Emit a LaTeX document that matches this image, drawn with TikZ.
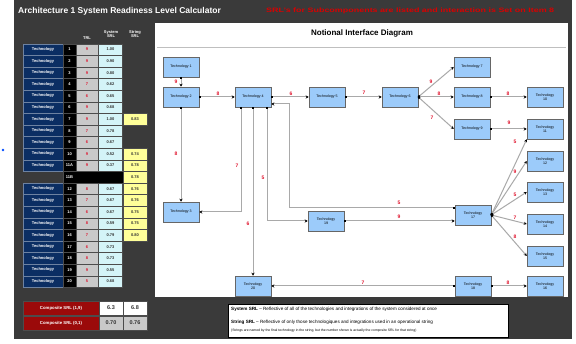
\documentclass[tikz,border=0pt]{standalone}
\usepackage{fontspec}
\setmainfont{Liberation Sans}
\usetikzlibrary{arrows.meta,shadows}
\definecolor{bgdark}{HTML}{3A3A3A}
\definecolor{navy}{HTML}{0B2E63}
\definecolor{techblue}{HTML}{9CCBFA}
\definecolor{trlgray}{HTML}{C9C9C9}
\definecolor{srlcyan}{HTML}{D4F4F8}
\definecolor{stryellow}{HTML}{FFFF99}
\definecolor{darkred}{HTML}{9B0A0A}
\definecolor{lblred}{HTML}{E0102A}
\definecolor{linegray}{HTML}{A9A9A9}
\newcommand\tinyfont[1]{\fontsize{#1}{#1}\selectfont}
\tikzset{
  cellbase/.style={draw=black!70, line width=0.3pt, inner sep=0pt, minimum height=11.6pt, font=\tinyfont{4}\bfseries},
  techlab/.style={cellbase, fill=navy, draw=navy!60!white, text=white, minimum width=40pt},
  technum/.style={cellbase, fill=black, text=white, minimum width=13pt},
  trlcell/.style={cellbase, fill=trlgray, text=lblred, minimum width=22pt},
  srlcell/.style={cellbase, fill=srlcyan, text=black!80, minimum width=24pt},
  strcell/.style={cellbase, fill=stryellow, text=black!80, minimum width=24pt},
  hdr/.style={text=white, font=\tinyfont{4}\bfseries, align=center, inner sep=0pt},
  compl/.style={draw=black!70, line width=0.3pt, fill=darkred, text=white, font=\tinyfont{4.3}\bfseries, minimum width=76pt, minimum height=14pt, inner sep=0pt},
  compv/.style={draw=black!70, line width=0.3pt, text=black!80, font=\tinyfont{5.5}\bfseries, minimum width=24pt, minimum height=14pt, inner sep=0pt},
  tech/.style={draw=black!60, line width=0.5pt, fill=techblue, minimum width=36pt, minimum height=20pt, inner sep=0pt, align=center, font=\tinyfont{3.6},
    drop shadow={shadow xshift=1pt, shadow yshift=-1pt, fill=black!45, opacity=1}},
  conn/.style={draw=linegray, line width=1pt, {Square[length=2pt,width=2pt,color=black]}-{Stealth[length=3pt,width=3pt,color=black]}},
  lab/.style={text=lblred, font=\tinyfont{5}\bfseries, inner sep=0pt}
}
\newcommand\techrow[6]{%
  \node[techlab] (tl#1) at (43,#2) {Technology};
  \node[technum] (tn#1) at (69.5,#2) {#3};
  \node[trlcell] (tr#1) at (87,#2) {#4};
  \node[srlcell] (ts#1) at (110.5,#2) {#5};
  \if\relax\detokenize{#6}\relax\else\node[strcell] (tg#1) at (135,#2) {#6};\fi
}
\begin{document}
\begin{tikzpicture}[x=1pt,y=-1pt]
\useasboundingbox (0,0) rectangle (576,344);
\fill[white] (0,0) rectangle (576,344);
\fill[bgdark] (14,0) rectangle (572,339);
\fill[blue!70!cyan] (3,150) circle (1.3pt);
% titles
\node[anchor=west, text=white, font=\tinyfont{8.5}\bfseries, inner sep=0pt] (title) at (18,11) {Architecture 1 System Readiness Level Calculator};
\node[anchor=west, text=red!85!black, font=\bfseries, inner sep=0pt] (note) at (266,11) {\resizebox{288pt}{4.6pt}{SRL's for Subcomponents are listed and interaction is Set on Item 8}};
% table headers
\node[hdr] (hTRL) at (87,38) {TRL};
\node[hdr] (hSys) at (111,34) {System\\SRL};
\node[hdr] (hStr) at (135,34) {String\\SRL};
% table rows
\techrow{1}{49.5}{1}{9}{1.00}{}
\techrow{2}{61.1}{2}{9}{0.90}{}
\techrow{3}{72.7}{3}{9}{0.80}{}
\techrow{4}{84.3}{4}{7}{0.62}{}
\techrow{5}{95.9}{5}{6}{0.65}{}
\techrow{6}{107.5}{6}{9}{0.68}{}
\techrow{7}{119.1}{7}{9}{1.00}{0.83}
\techrow{8}{130.7}{8}{7}{0.78}{}
\techrow{9}{142.3}{9}{6}{0.67}{}
\techrow{10}{153.9}{10}{9}{0.52}{0.74}
\techrow{11a}{165.5}{11A}{9}{0.37}{0.78}
\node[cellbase, fill=black, text=white, minimum width=60pt] (tn11b) at (93,177.1) {};
\node[text=white, font=\tinyfont{4}\bfseries, inner sep=0pt] (tx11b) at (69.5,177.1) {11B};
\node[strcell] (tg11b) at (135,177.1) {0.78};
\techrow{12}{188.7}{12}{8}{0.67}{0.76}
\techrow{13}{200.3}{13}{7}{0.67}{0.76}
\techrow{14}{211.9}{14}{6}{0.67}{0.75}
\techrow{15}{223.5}{15}{8}{0.59}{0.75}
\techrow{16}{235.1}{16}{7}{0.79}{0.80}
\techrow{17}{246.7}{17}{6}{0.73}{}
\techrow{18}{258.3}{18}{8}{0.73}{}
\techrow{19}{269.9}{19}{9}{0.55}{}
\techrow{20}{281.5}{20}{5}{0.68}{}
% composite
\node[compl] (c1l) at (61,308) {Composite SRL (1,9)};
\node[compv, fill=white] (c1a) at (111,308) {6.3};
\node[compv, fill=white] (c1b) at (135,308) {6.8};
\node[compl] (c2l) at (61,323) {Composite SRL (0,1)};
\node[compv, fill=trlgray] (c2a) at (111,323) {0.70};
\node[compv, fill=trlgray] (c2b) at (135,323) {0.76};
% diagram panel
\fill[white] (155,23) rectangle (568,297);
\node[font=\tinyfont{8}\bfseries, inner sep=0pt] (dtitle) at (362,33) {Notional Interface Diagram};
\draw[black!25, line width=0.6pt] (157,47) -- (566,47);
% technology nodes
\node[tech] (T1) at (181,67) {Technology 1};
\node[tech] (T2) at (181,97) {Technology 2};
\node[tech] (T3) at (181,212) {Technology 3};
\node[tech] (T4) at (253,97) {Technology 4};
\node[tech] (T5) at (327,97) {Technology 5};
\node[tech] (T6) at (400,97) {Technology 6};
\node[tech] (T7) at (472,67) {Technology 7};
\node[tech] (T8) at (472,97) {Technology 8};
\node[tech] (T9) at (472,129) {Technology 9};
\node[tech] (T10) at (545,97) {Technology\\10};
\node[tech] (T11) at (545,129) {Technology\\11};
\node[tech] (T12) at (545,161) {Technology\\12};
\node[tech] (T13) at (545,192) {Technology\\13};
\node[tech] (T14) at (545,224) {Technology\\14};
\node[tech] (T15) at (545,256) {Technology\\15};
\node[tech] (T16) at (545,286) {Technology\\16};
\node[tech] (T17) at (473,215) {Technology\\17};
\node[tech] (T18) at (473,286) {Technology\\18};
\node[tech] (T19) at (326,221) {Technology\\19};
\node[tech] (T20) at (253,286) {Technology\\20};
% bend coordinates
\coordinate (b3) at (241,212);
\coordinate (b19) at (267,221);
\coordinate (b17a) at (289,208);
\coordinate (b17b) at (289,104);
% connectors
\draw[conn] (T1) -- (T2);
\draw[conn] (T2) -- (T4);
\draw[conn] (T2) -- (T3);
\draw[conn] (T4.south -| b3) -- (b3) -- (T3.east);
\draw[conn] (T4) -- (T20);
\draw[conn] (T4.south -| b19) -- (b19) -- (T19.west);
\draw[conn] (T17.west |- b17a) -- (b17a) -- (b17b) -- (T4.east |- b17b);
\draw[conn] (T19.east) -- (T17.west |- T19.east);
\draw[conn] (T4) -- (T5);
\draw[conn] (T5) -- (T6);
\draw[conn] (T6.east) -- (T7.west);
\draw[conn] (T6) -- (T8);
\draw[conn] (T6.east) -- (T9.west);
\draw[conn] (T8) -- (T10);
\draw[conn] (T9) -- (T11);
\draw[conn] (T17.east) -- (T11.south west);
\draw[conn] (T17.east) -- (T12.west);
\draw[conn] (T17.east) -- (T13.west);
\draw[conn] (T17.east) -- (T14.west);
\draw[conn] (T17.east) -- (T15.west);
\draw[conn] (T18) -- (T20);
\draw[conn] (T18) -- (T16);
% connector labels
\node[lab] (l12) at (176,82) {9};
\node[lab] (l24) at (218,94) {8};
\node[lab] (l23) at (176,154) {8};
\node[lab] (l43) at (237,166) {7};
\node[lab] (l420) at (248,224) {6};
\node[lab] (l419) at (263,178) {5};
\node[lab] (l174) at (399,203) {5};
\node[lab] (l1917) at (399,217) {9};
\node[lab] (l45) at (291,94) {6};
\node[lab] (l56) at (364,93) {7};
\node[lab] (l67) at (431,82) {9};
\node[lab] (l68) at (439,94) {8};
\node[lab] (l69) at (432,118) {7};
\node[lab] (l810) at (508,94) {8};
\node[lab] (l911) at (509,123) {9};
\node[lab] (l1711) at (515,142) {5};
\node[lab] (l1712) at (515,172) {9};
\node[lab] (l1713) at (515,195) {5};
\node[lab] (l1714) at (515,218) {7};
\node[lab] (l1715) at (515,237) {8};
\node[lab] (l1820) at (363,283) {7};
\node[lab] (l1816) at (508,283) {8};
% legend
\node[draw=black, line width=0.6pt, fill=white, minimum width=280pt, minimum height=33pt, inner sep=0pt] (legend) at (368,320.5) {};
\node[anchor=west, font=\tinyfont{4.6}, inner sep=0pt] (leg1) at (231,309) {\textbf{System SRL} -- Reflective of all of the technologies and integrations of the system considered at once};
\node[anchor=west, font=\tinyfont{4.6}, inner sep=0pt] (leg2) at (231,322) {\textbf{String SRL} -- Reflective of only those technologiques and integrations used in an operational string};
\node[anchor=west, font=\tinyfont{3.4}, inner sep=0pt] (leg3) at (231,330.5) {(Strings are named by the final technology in the string, but the number shown is actually the composite SRL for that string)};
\end{tikzpicture}
\end{document}
